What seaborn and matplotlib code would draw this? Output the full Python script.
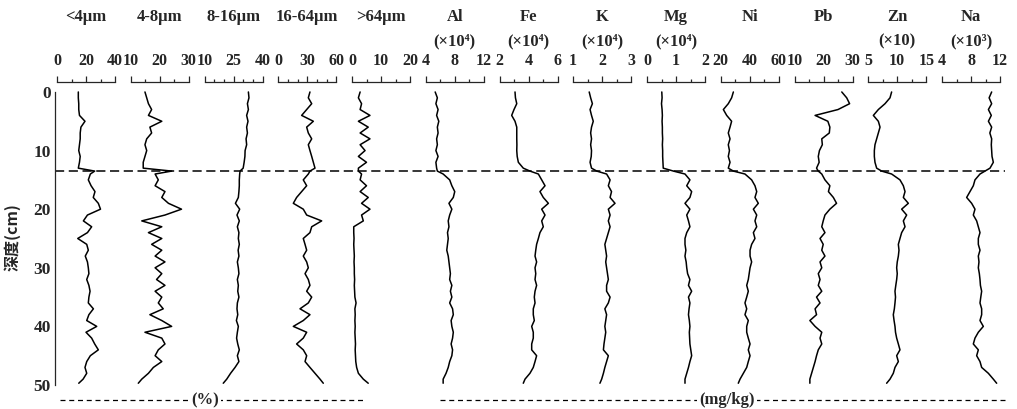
import matplotlib
matplotlib.use("Agg")
import matplotlib.pyplot as plt
from matplotlib.lines import Line2D
from matplotlib.ticker import MultipleLocator
import seaborn as sns

sns.set_style("white")
plt.rcParams["font.family"] = ["Liberation Serif", "DejaVu Serif"]
plt.rcParams["font.weight"] = "bold"

# depth (cm), shared by all profiles
DEPTH = [0, 1, 2, 3, 4, 5, 6, 7, 8, 9, 10, 11, 12, 13, 13.5,
         14, 15, 16, 17, 18, 19, 20, 21, 22, 23, 24, 25, 26, 27, 28, 29, 30, 31,
         32, 33, 34, 35, 36, 37, 38, 39, 40, 41, 42, 43, 44, 45, 46, 47, 48, 49, 49.7]

LT4 = [14.7, 14.7, 15.0, 15.0, 15.5, 19.3, 16.5, 16.0, 16.0, 15.5, 15.0, 16.0, 15.5, 14.7, 26.0,
       23.0, 21.6, 23.5, 26.2, 25.0, 28.5, 30.0, 21.0, 18.2, 23.9, 21.0, 14.3, 20.5, 21.6, 19.5, 21.0,
       21.6, 22.0, 20.5, 22.0, 22.8, 22.0, 21.6, 25.1, 22.0, 20.5, 27.4, 20.0, 23.9, 26.0, 28.5, 23.0,
       20.5, 19.3, 20.5, 18.0, 15.0]
S4_8 = [14.9, 15.5, 16.1, 17.2, 16.1, 20.7, 16.6, 17.2, 15.5, 14.9, 15.5, 14.9, 14.3, 14.3, 24.1,
        18.4, 19.5, 18.4, 21.8, 20.7, 23.0, 27.5, 21.8, 13.8, 20.7, 16.1, 20.7, 17.2, 20.7, 18.4, 21.8,
        18.4, 20.7, 18.9, 21.8, 18.4, 20.7, 19.5, 21.2, 16.6, 20.7, 24.1, 14.9, 20.7, 21.8, 19.5, 18.4,
        20.7, 17.8, 16.1, 13.8, 12.6]
S8_16 = [32.7, 33.0, 32.2, 32.7, 31.8, 32.5, 31.8, 32.2, 31.5, 31.8, 31.0, 30.9, 30.5, 30.0, 28.4,
         28.2, 28.0, 28.0, 27.8, 27.5, 26.0, 28.2, 26.8, 28.0, 27.0, 27.8, 27.5, 28.0, 27.4, 27.8, 27.0,
         27.5, 27.8, 27.0, 27.5, 27.2, 27.8, 27.0, 26.8, 27.2, 26.5, 27.5, 27.0, 26.6, 27.2, 28.0, 27.0,
         27.8, 25.8, 23.5, 21.5, 19.7]
S16_64 = [32.8, 31.1, 34.6, 29.4, 24.2, 36.3, 29.4, 31.1, 34.6, 31.1, 32.8, 34.6, 36.3, 38.0, 32.8,
          31.1, 25.9, 29.4, 24.2, 19.0, 15.6, 25.9, 29.4, 44.9, 34.6, 32.8, 25.9, 27.7, 29.4, 25.9, 29.4,
          31.1, 27.7, 31.1, 32.8, 29.4, 34.6, 31.1, 22.5, 32.8, 25.9, 15.6, 29.4, 25.9, 19.0, 25.9, 29.4,
          27.7, 32.8, 38.0, 43.2, 46.6]
GT64 = [2.8, 2.2, 3.3, 2.8, 6.2, 2.2, 5.6, 2.8, 6.2, 2.8, 4.5, 2.2, 5.0, 2.2, 2.2,
        3.3, 2.8, 5.0, 2.8, 5.6, 3.3, 6.2, 3.3, 3.9, 0.6, 0.6, 0.7, 0.6, 0.7, 0.8, 0.7,
        0.8, 0.8, 0.9, 0.8, 0.9, 1.0, 1.4, 1.0, 1.1, 1.0, 1.1, 1.0, 1.1, 1.2, 1.1, 1.2,
        1.3, 1.6, 2.2, 3.9, 5.6]
AL = [5.3, 5.6, 5.4, 5.7, 5.5, 5.8, 5.6, 5.7, 5.5, 5.6, 5.4, 5.7, 5.4, 5.5, 5.6,
      6.4, 7.3, 7.6, 8.0, 7.8, 7.2, 7.6, 7.3, 7.1, 7.2, 7.0, 7.1, 7.0, 6.9, 7.1, 7.2,
      7.3, 7.4, 7.3, 7.6, 7.4, 7.6, 7.3, 7.7, 7.8, 7.5, 7.6, 7.8, 7.7, 7.5, 7.7, 7.6,
      7.3, 7.1, 6.8, 6.4, 6.4]
FE = [3.07, 3.10, 3.19, 3.00, 2.84, 3.07, 3.19, 3.19, 3.19, 3.20, 3.19, 3.22, 3.30, 3.64, 4.10,
      4.68, 4.91, 5.14, 4.79, 5.02, 5.37, 4.91, 5.14, 4.91, 5.02, 4.79, 4.68, 4.56, 4.50, 4.45, 4.56,
      4.45, 4.50, 4.45, 4.56, 4.45, 4.40, 4.45, 4.33, 4.33, 4.40, 4.22, 4.33, 4.33, 4.22, 4.22, 4.56,
      4.45, 4.33, 4.10, 3.76, 3.64]
K = [1.55, 1.60, 1.66, 1.58, 1.63, 1.69, 1.63, 1.60, 1.63, 1.60, 1.63, 1.62, 1.58, 1.63, 1.81,
     2.15, 2.27, 2.21, 2.32, 2.27, 2.44, 2.21, 2.27, 2.21, 2.27, 2.21, 2.15, 2.09, 2.12, 2.15, 2.12,
     2.15, 2.18, 2.21, 2.15, 2.15, 2.27, 2.21, 2.09, 2.15, 2.12, 2.09, 2.12, 2.09, 2.06, 2.04, 2.21,
     2.15, 2.09, 2.04, 1.98, 1.92]
MG = [0.51, 0.52, 0.50, 0.52, 0.53, 0.52, 0.53, 0.53, 0.54, 0.53, 0.54, 0.54, 0.55, 0.56, 0.91,
      1.31, 1.48, 1.37, 1.54, 1.48, 1.31, 1.48, 1.37, 1.43, 1.48, 1.37, 1.31, 1.31, 1.34, 1.31, 1.35,
      1.37, 1.40, 1.48, 1.43, 1.54, 1.43, 1.48, 1.45, 1.43, 1.46, 1.48, 1.46, 1.47, 1.48, 1.51, 1.54,
      1.48, 1.43, 1.37, 1.31, 1.31]
NI = [28.7, 27.5, 25.2, 21.8, 24.1, 27.5, 26.4, 25.2, 26.4, 25.2, 26.0, 25.2, 26.4, 25.2, 28.7,
      36.7, 41.3, 43.6, 44.8, 43.6, 45.9, 42.5, 44.8, 43.6, 44.8, 42.5, 43.6, 41.3, 40.2, 40.2, 41.3,
      40.2, 39.6, 39.0, 37.9, 39.0, 37.9, 36.7, 37.9, 36.7, 39.0, 37.9, 37.9, 39.0, 40.2, 39.0, 40.2,
      39.0, 37.9, 35.6, 33.3, 32.1]
PB = [26.3, 28.0, 29.0, 25.0, 17.1, 21.5, 22.2, 22.0, 19.4, 19.6, 18.6, 18.2, 18.5, 17.6, 18.2,
      19.4, 20.5, 22.2, 21.7, 23.4, 24.5, 22.2, 20.5, 19.9, 19.4, 20.5, 18.8, 19.9, 19.4, 20.5, 18.8,
      19.4, 18.2, 18.8, 18.2, 19.4, 17.6, 18.8, 17.1, 17.6, 15.3, 17.1, 19.4, 18.8, 19.4, 18.2, 17.6,
      17.1, 16.5, 15.9, 15.3, 15.3]
ZN = [9.03, 8.75, 7.89, 6.74, 5.88, 6.74, 7.03, 6.74, 6.45, 6.16, 6.05, 6.05, 6.16, 6.45, 7.31,
      9.03, 10.47, 11.05, 11.34, 11.05, 11.91, 10.76, 11.62, 11.05, 11.34, 10.76, 10.47, 10.19, 10.30,
      10.19, 10.00, 9.90, 10.00, 9.90, 9.75, 9.61, 9.70, 9.61, 9.50, 9.32, 9.45, 9.61, 9.70, 9.90,
      10.19, 10.47, 9.90, 10.19, 9.61, 9.32, 8.75, 8.17]
NA = [10.85, 10.50, 10.85, 10.40, 10.80, 10.40, 10.85, 10.60, 10.85, 10.80, 10.85, 10.90, 11.08,
      10.62, 9.93, 9.24, 8.55, 8.32, 7.86, 7.40, 8.09, 8.55, 8.32, 8.78, 9.01, 9.24, 9.01, 9.01, 9.24,
      9.01, 9.10, 9.01, 9.15, 9.24, 9.30, 9.47, 9.35, 9.24, 9.47, 9.47, 9.24, 9.70, 9.01, 8.55, 8.32,
      9.01, 8.78, 9.24, 9.47, 10.39, 11.08, 11.54]

SERIES = [LT4, S4_8, S8_16, S16_64, GT64, AL, FE, K, MG, NI, PB, ZN, NA]
TITLES = ["<4μm", "4-8μm", "8-16μm", "16-64μm", ">64μm", "Al", "Fe", "K", "Mg", "Ni", "Pb", "Zn", "Na"]
SUBTITLES = ["", "", "", "", "", "(×10⁴)", "(×10⁴)", "(×10⁴)", "(×10⁴)", "", "", "(×10)", "(×10³)"]
RANGES = [(0, 40), (10, 30), (10, 40), (0, 60), (0, 20), (4, 12), (2, 6), (1, 3), (0, 2),
          (20, 60), (10, 30), (5, 15), (4, 12)]
MAJOR = [[0, 20, 40], [10, 20, 30], [10, 25, 40], [0, 30, 60], [0, 10, 20], [4, 8, 12], [2, 4, 6],
         [1, 2, 3], [0, 1, 2], [20, 40, 60], [10, 20, 30], [5, 10, 15], [4, 8, 12]]
MINOR_STEP = [10, 5, 5, 10, 5, 2, 1, 0.5, 0.5, 10, 5, 2.5, 2]
BREAK_DEPTH = 13.5

# layout in pixels
W, H = 1017, 409
X0, STEP, PW = 57, 73.75, 58
Y_TOP, Y_BOT = 82, 385
Y_MIN = -1.7

fig = plt.figure(figsize=(W / 100, H / 100), dpi=100)
bottom = 1 - Y_BOT / H
height = (Y_BOT - Y_TOP) / H

# break line across all panels
ax_bg = fig.add_axes([55 / W, bottom, (1005 - 55) / W, height])
ax_bg.set_ylim(50, Y_MIN)
ax_bg.axhline(BREAK_DEPTH, color="black", lw=1.1, ls=(0, (6, 3)))
ax_bg.axis("off")

for i, vals in enumerate(SERIES):
    x0 = X0 + STEP * i
    ax = fig.add_axes([x0 / W, bottom, PW / W, height])
    ax.patch.set_alpha(0)
    sns.lineplot(x=vals, y=DEPTH, ax=ax, orient="y", sort=False, estimator=None,
                 color="black", linewidth=1.1)
    lo, hi = RANGES[i]
    ax.set_xlim(lo, hi)
    ax.set_ylim(50, Y_MIN)
    ax.set_xlabel("")
    ax.set_ylabel("")
    for s in ["right", "bottom"]:
        ax.spines[s].set_visible(False)
    ax.spines["top"].set_linewidth(0.9)
    ax.xaxis.set_ticks_position("top")
    ax.set_xticks(MAJOR[i])
    ax.set_xticklabels([str(v) for v in MAJOR[i]])
    ax.xaxis.set_minor_locator(MultipleLocator(MINOR_STEP[i]))
    ax.tick_params(axis="x", which="major", direction="out", length=4, width=0.9, pad=5.5,
                   labelsize=11.5)
    ax.tick_params(axis="x", which="minor", direction="out", length=2, width=0.9)
    if i == 0:
        ax.spines["left"].set_bounds(0, 50)
        ax.spines["left"].set_position(("outward", 1.5))
        ax.spines["left"].set_linewidth(0.9)
        ax.set_yticks([0, 10, 20, 30, 40, 50])
        ax.yaxis.set_minor_locator(MultipleLocator(1))
        ax.tick_params(axis="y", which="major", direction="in", length=6, width=0.9,
                       pad=3, labelsize=12.5)
        ax.tick_params(axis="y", which="minor", direction="in", length=3.5, width=0.8)
    else:
        ax.spines["left"].set_visible(False)
        ax.set_yticks([])
    cx = (x0 + PW / 2) / W
    fig.text(cx, 1 - 17 / H, TITLES[i], ha="center", va="center", fontsize=12,
             fontweight="bold")
    if SUBTITLES[i]:
        fig.text(cx, 1 - 41 / H, SUBTITLES[i], ha="center", va="center", fontsize=12,
                 fontweight="bold")

fig.text(12 / W, 1 - 237 / H, "深度(cm)", rotation=90, ha="center", va="center",
         fontsize=11.5, fontweight="bold", family=["Noto Sans CJK SC", "DejaVu Sans"])

# unit brackets under the panels
yb = 1 - 400 / H
for xa, xb, xt, label in [(60, 365, 205, "(%)"), (440, 1005, 727, "(mg/kg)")]:
    fig.add_artist(Line2D([xa / W, xb / W], [yb, yb], transform=fig.transFigure,
                          color="black", lw=0.9, ls=(0, (4, 3))))
    fig.text(xt / W, yb, label, ha="center", va="center", fontsize=12, fontweight="bold",
             bbox=dict(facecolor="white", edgecolor="none", pad=1.5))

fig.savefig("out.png", dpi=100)
